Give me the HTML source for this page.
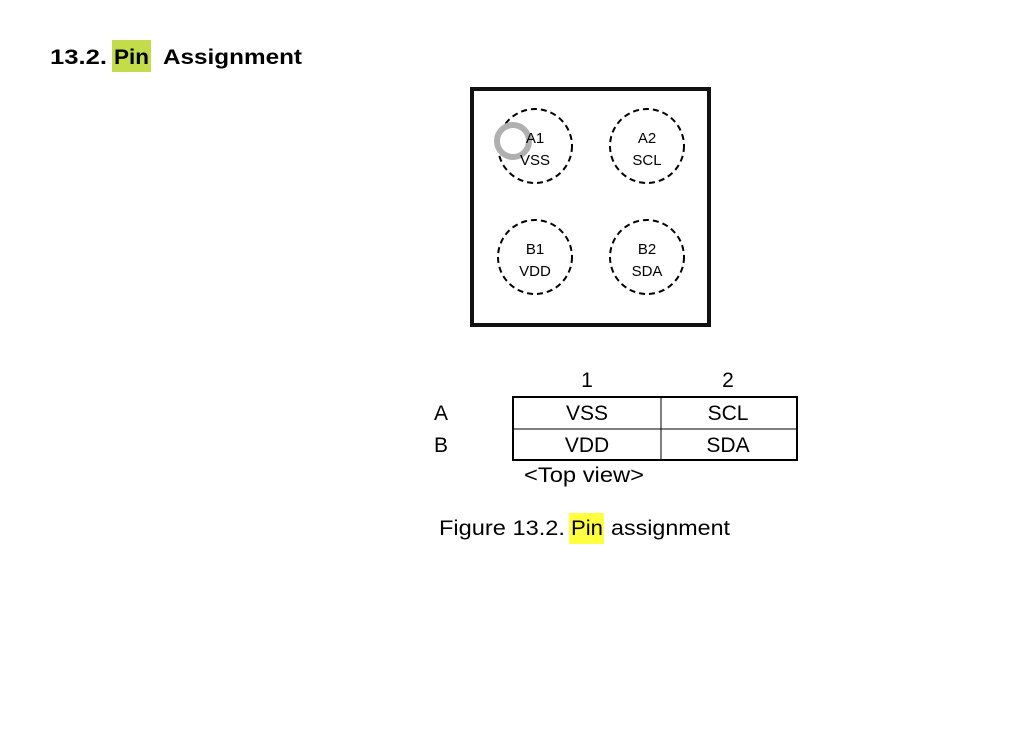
<!DOCTYPE html>
<html><head><meta charset="utf-8"><style>
html,body{margin:0;padding:0;background:#fff;width:1014px;height:746px;overflow:hidden}
svg{display:block}
text{font-family:"Liberation Sans",Arial,sans-serif;fill:#000}
</style></head><body>
<svg width="1014" height="746" viewBox="0 0 1014 746">
<rect x="112" y="40" width="39" height="32" fill="#c3dd4a"/>
<g font-size="21" font-weight="bold">
<text x="50" y="64" textLength="57" lengthAdjust="spacingAndGlyphs">13.2.</text>
<text x="114" y="64" textLength="35" lengthAdjust="spacingAndGlyphs">Pin</text>
<text x="163" y="64" textLength="139" lengthAdjust="spacingAndGlyphs">Assignment</text>
</g>
<rect x="472" y="89" width="237" height="236" fill="none" stroke="#111" stroke-width="4"/>
<g fill="none" stroke="#000" stroke-width="2" stroke-dasharray="6,4">
<circle cx="535" cy="146" r="37"/><circle cx="647" cy="146" r="37"/>
<circle cx="535" cy="257" r="37"/><circle cx="647" cy="257" r="37"/>
</g>
<circle cx="513" cy="141" r="16" fill="none" stroke="#b0b0b0" stroke-width="6"/>
<g font-size="15" text-anchor="middle">
<text x="535" y="143">A1</text><text x="535" y="165">VSS</text>
<text x="647" y="143">A2</text><text x="647" y="165">SCL</text>
<text x="535" y="254">B1</text><text x="535" y="276">VDD</text>
<text x="647" y="254">B2</text><text x="647" y="276">SDA</text>
</g>
<g font-size="21" text-anchor="middle">
<text x="587" y="387">1</text><text x="728" y="387">2</text>
<text x="587" y="420">VSS</text><text x="728" y="420">SCL</text>
<text x="587" y="452">VDD</text><text x="728" y="452">SDA</text>
</g>
<g font-size="21"><text x="434" y="420">A</text><text x="434" y="452">B</text>
<text x="524" y="482" textLength="120" lengthAdjust="spacingAndGlyphs">&lt;Top view&gt;</text></g>
<g fill="none" stroke="#000">
<rect x="513" y="397" width="284" height="63" stroke-width="2"/>
<line x1="513" y1="429" x2="797" y2="429" stroke-width="1"/>
<line x1="661" y1="397" x2="661" y2="460" stroke-width="1"/>
</g>
<rect x="569" y="513" width="35" height="31" fill="#ffff40"/>
<g font-size="21">
<text x="439" y="535" textLength="126" lengthAdjust="spacingAndGlyphs">Figure 13.2.</text>
<text x="571" y="535" textLength="32" lengthAdjust="spacingAndGlyphs">Pin</text>
<text x="611" y="535" textLength="119" lengthAdjust="spacingAndGlyphs">assignment</text>
</g>
</svg>
</body></html>
